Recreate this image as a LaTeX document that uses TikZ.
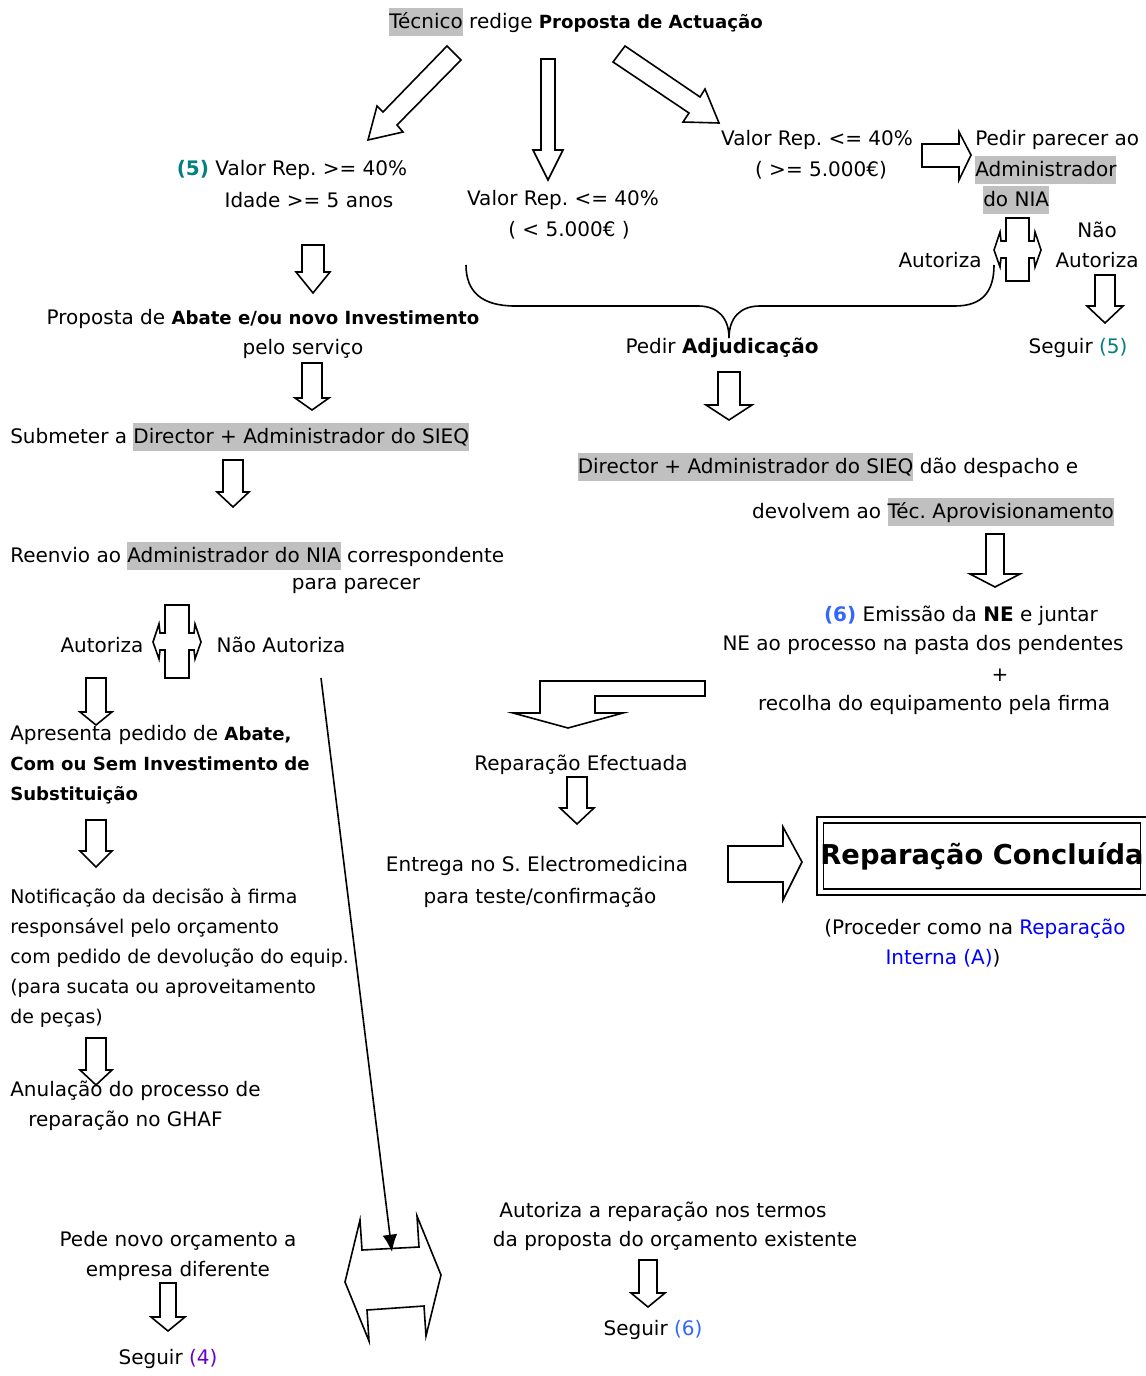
\documentclass[tikz,border=0pt]{standalone}
\usepackage{fontspec}
\setmainfont{DejaVu Sans}
\usetikzlibrary{arrows.meta}
\frenchspacing

\definecolor{hlgray}{RGB}{192,192,192}
\definecolor{tealc}{RGB}{0,128,128}
\definecolor{blsix}{RGB}{51,102,255}
\definecolor{purfour}{RGB}{102,0,204}
\definecolor{linkblue}{RGB}{0,0,255}

\newcommand{\hl}[1]{{\setlength{\fboxsep}{0pt}\colorbox{hlgray}{\rule[-6pt]{0pt}{21.5pt}#1}}}
\newcommand{\smb}[1]{{\fontsize{13.6}{22.5}\selectfont\bfseries #1}}

% hollow block arrow pointing down: x, top, head base, tip, shaft half width, head half width
\newcommand{\barrowdown}[6]{%
  \draw[blockarr] ({#1-#5},#2) -- ({#1+#5},#2) -- ({#1+#5},#3) -- ({#1+#6},#3)
    -- (#1,#4) -- ({#1-#6},#3) -- ({#1-#5},#3) -- cycle;}
% upright block with small heads left and right: left, right, top, bottom, middle
\newcommand{\lrblock}[5]{%
  \draw[blockarr] (#1,#3) -- (#2,#3) -- (#2,{#5-9}) -- ({#2+5},{#5-9}) -- ({#2+6},{#5-18})
    -- ({#2+12},#5) -- ({#2+6},{#5+17}) -- ({#2+5},{#5+8}) -- (#2,{#5+8}) -- (#2,#4)
    -- (#1,#4) -- (#1,{#5+8}) -- ({#1-5},{#5+8}) -- ({#1-6},{#5+17}) -- ({#1-12},#5)
    -- ({#1-6},{#5-18}) -- ({#1-5},{#5-9}) -- (#1,{#5-9}) -- cycle;}

\tikzset{
  txt/.style={font=\fontsize{15}{22.5}\selectfont, inner sep=0pt},
  ltxt/.style={txt, anchor=west, align=left},
  blockarr/.style={draw=black, line width=1.2pt, fill=white},
  conn/.style={line width=1.2pt, -{Latex[length=13pt,width=11pt]}},
  concl/.style={draw, line width=1.4pt, double, double distance=3.2pt,
    minimum width=232pt, minimum height=54pt, inner sep=0pt,
    font=\fontsize{20.5}{24}\selectfont\bfseries},
}

\begin{document}
\begin{tikzpicture}[x=0.75pt, y=-0.75pt]
  \useasboundingbox (0,0) rectangle (1145,1376);

  % top of the chart
  \node[txt] (tec) at (576,22) {\hl{Técnico} redige \smb{Proposta de Actuação}};
  \draw[blockarr] (447,46) -- (461,60) -- (397,125) -- (403,132) -- (368,140) -- (377,106) -- (383,112) -- cycle;
  \barrowdown{548}{59}{150}{180}{7}{15}
  \draw[blockarr] (625,46) -- (700,97) -- (705,89) -- (719,123) -- (683,122) -- (689,113) -- (613,62) -- cycle;

  \node[txt] (valA) at (292,170) {\textcolor{tealc}{\textbf{(5)}} Valor Rep. >= 40\%};
  \node[txt] (idade) at (309,200) {Idade >= 5 anos};
  \node[txt] (valB) at (563,200) {Valor Rep. <= 40\%};
  \node[txt] (valB2) at (569,230) {( < 5.000€ )};
  \node[txt] (valC) at (817,140) {Valor Rep. <= 40\%};
  \node[txt] (valC2) at (821,170) {( >= 5.000€)};
  \draw[blockarr] (922,144) -- (959,144) -- (959,132) -- (971,155) -- (959,180) -- (959,167) -- (922,167) -- cycle;
  \node[ltxt] (parA) at (975,140) {Pedir parecer ao};
  \node[ltxt] (parB) at (975,170) {\hl{Administrador}};
  \node[ltxt] (parC) at (983,200) {\hl{do NIA}};

  \lrblock{1006}{1029}{218}{281}{250}
  \node[txt] (autR) at (940,260) {Autoriza};
  \node[txt, align=center] (nautR) at (1097,245) {Não\\Autoriza};
  \barrowdown{1105}{275}{306}{323}{10}{18}
  \node[txt] (seg5) at (1078,348) {Seguir \textcolor{tealc}{(5)}};

  % brace to Pedir Adjudicacao
  \draw[line width=1.2pt] (466,265) .. controls (466,292) and (482,306) .. (515,306) -- (698,306)
    .. controls (718,306) and (729,318) .. (729,338)
    .. controls (729,318) and (740,306) .. (760,306) -- (955,306)
    .. controls (982,306) and (994,292) .. (994,265);
  \node[txt] (adj) at (722,348) {Pedir \textbf{Adjudicação}};
  \barrowdown{729}{372}{405}{420}{11}{23}

  % left column
  \barrowdown{313}{245}{272}{293}{11}{17}
  \node[txt] (abateA) at (263,319) {Proposta de \smb{Abate e/ou novo Investimento}};
  \node[txt] (abateB) at (303,349) {pelo serviço};
  \barrowdown{312}{363}{398}{410}{10}{17}
  \node[ltxt] (subm) at (10,437) {Submeter a \hl{Director + Administrador do SIEQ}};
  \barrowdown{233}{460}{492}{507}{10}{16}
  \node[ltxt] (reenv) at (10,556) {Reenvio ao \hl{Administrador do NIA} correspondente};
  \node[txt] (reenvB) at (356,586) {para parecer};

  \lrblock{165}{189}{605}{678}{642}
  \node[txt] (autL) at (102,645) {Autoriza};
  \node[txt] (nautL) at (281,645) {Não Autoriza};
  \barrowdown{96}{678}{712}{725}{10}{16}
  \node[ltxt] (apres) at (10,765) {Apresenta pedido de \smb{Abate,}\\\smb{Com ou Sem Investimento de}\\\smb{Substituição}};
  \barrowdown{96}{820}{851}{867}{10}{16}
  \node[ltxt, font=\fontsize{14.2}{22.5}\selectfont] (notif) at (10,958) {Notificação da decisão à firma\\responsável pelo orçamento\\com pedido de devolução do equip.\\(para sucata ou aproveitamento\\de peças)};
  \barrowdown{96}{1038}{1070}{1085}{10}{16}
  \node[ltxt] (anulA) at (10,1091) {Anulação do processo de};
  \node[ltxt] (anulB) at (28,1121) {reparação no GHAF};

  % right column
  \node[txt] (despA) at (828,467) {\hl{Director + Administrador do SIEQ} dão despacho e};
  \node[txt] (despB) at (933,512) {devolvem ao \hl{Téc. Aprovisionamento}};
  \barrowdown{995}{534}{574}{587}{9}{25}
  \node[txt] (emisA) at (961,616) {\textcolor{blsix}{\textbf{(6)}} Emissão da \textbf{NE} e juntar};
  \node[txt] (emisB) at (923,645) {NE ao processo na pasta dos pendentes};
  \node[txt] (emisC) at (1000,675) {+};
  \node[txt] (emisD) at (934,705) {recolha do equipamento pela firma};
  \draw[blockarr] (540,681) -- (705,681) -- (705,696) -- (595,696) -- (595,713) -- (623,713) -- (568,728) -- (513,713) -- (540,713) -- cycle;
  \node[txt] (efect) at (581,765) {Reparação Efectuada};
  \barrowdown{577}{777}{808}{824}{10}{17}
  \node[txt] (entA) at (537,866) {Entrega no S. Electromedicina};
  \node[txt] (entB) at (540,898) {para teste/confirmação};
  \draw[blockarr] (728,846) -- (783,846) -- (783,827) -- (802,862) -- (783,900) -- (783,882) -- (728,882) -- cycle;
  \node[concl] (concl) at (982,856) {Reparação Concluída};
  \node[txt] (procA) at (975,929) {(Proceder como na \textcolor{linkblue}{Reparação}};
  \node[txt] (procB) at (943,958) {\textcolor{linkblue}{Interna (A)})};

  % bottom
  \draw[blockarr] (360,1220) -- (362,1250) -- (419,1247) -- (417,1216) -- (441,1275) -- (426,1336)
    -- (424,1306) -- (367,1310) -- (369,1341) -- (345,1282) -- cycle;
  \coordinate (nautfoot) at (321,678);
  \coordinate (dbltop) at (392,1252);
  \draw[conn] (nautfoot) -- (dbltop);

  \node[txt] (pedeA) at (178,1241) {Pede novo orçamento a};
  \node[txt] (pedeB) at (178,1271) {empresa diferente};
  \barrowdown{168}{1283}{1317}{1331}{8}{17}
  \node[txt] (seg4) at (168,1359) {Seguir \textcolor{purfour}{(4)}};
  \node[txt] (autbA) at (663,1212) {Autoriza a reparação nos termos};
  \node[txt] (autbB) at (675,1241) {da proposta do orçamento existente};
  \barrowdown{648}{1260}{1293}{1307}{9}{17}
  \node[txt] (seg6) at (653,1330) {Seguir \textcolor{blsix}{(6)}};
\end{tikzpicture}
\end{document}
